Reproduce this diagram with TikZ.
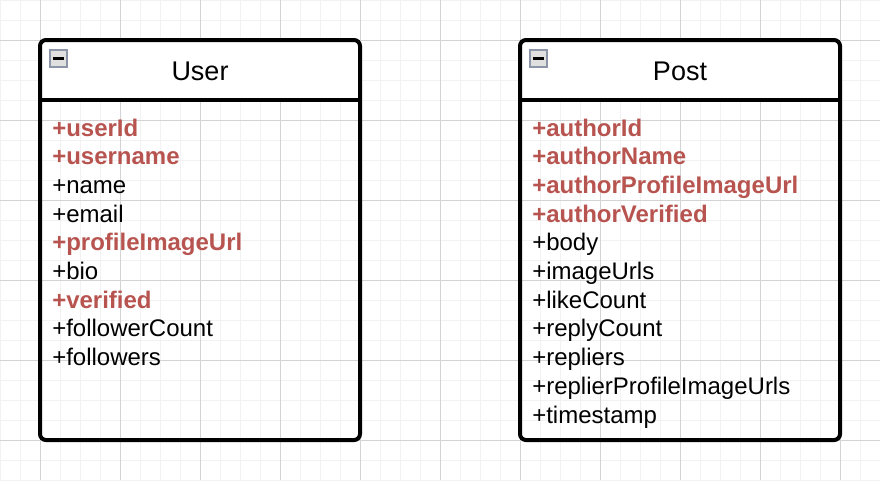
\documentclass[tikz,border=0pt]{standalone}
\usepackage{fontspec}
\setmainfont{Liberation Sans}
\definecolor{gridminor}{HTML}{F2F2F2}
\definecolor{gridmajor}{HTML}{D3D3D3}
\definecolor{keyred}{HTML}{B85450}
\definecolor{iconedge}{HTML}{8D96A8}
\def\classframe(#1){%
	\fill[white, rounded corners=4.5pt] (#1, 100) -- (#1, 40) -- ({#1+320}, 40) -- ({#1+320}, 100) [sharp corners] -- cycle;
	\draw[line width=3pt, rounded corners=4.5pt] (#1, 40) rectangle ({#1+320}, 440);
	\draw[line width=3pt] (#1, 100) -- ({#1+320}, 100);
	\draw[iconedge, line width=1.1pt, fill=black!12] ({#1+10}, 50) rectangle ({#1+27}, 67);
	\draw[line width=1.6pt] ({#1+13}, 58.5) -- ({#1+24}, 58.5);}

\begin{document}
\begin{tikzpicture}[x=0.75pt, y=-0.75pt,
		title/.style={anchor=base, inner sep=0pt, font=\fontsize{20.25}{24}\selectfont},
		field/.style={anchor=base west, inner sep=0pt, font=\fontsize{18}{21.6}\selectfont},
		keyfield/.style={field, text=keyred, font=\fontsize{18}{21.6}\selectfont\bfseries}]
		%%%%% START %%%%%
		
		\useasboundingbox (0, 0) rectangle (880, 480);
		
		\foreach \gx in {0, 20, ..., 880} \draw[gridminor, line width=0.75pt] (\gx, 0) -- (\gx, 480);
		\foreach \gy in {0, 20, ..., 480} \draw[gridminor, line width=0.75pt] (0, \gy) -- (880, \gy);
		\foreach \gx in {40, 120, ..., 840} \draw[gridmajor, line width=0.75pt] (\gx, 0) -- (\gx, 480);
		\foreach \gy in {40, 120, ..., 440} \draw[gridmajor, line width=0.75pt] (0, \gy) -- (880, \gy);
		
		\classframe(40)
		\classframe(520)
		
		\node[title] (user) at (200, 80) {User};
		\node[keyfield] (userId) at (52, 136) {+userId};
		\node[keyfield] (username) at (52, 164.7) {+username};
		\node[field] (name) at (52, 193.4) {+name};
		\node[field] (email) at (52, 222.1) {+email};
		\node[keyfield] (profileImageUrl) at (52, 250.8) {+profileImageUrl};
		\node[field] (bio) at (52, 279.5) {+bio};
		\node[keyfield] (verified) at (52, 308.2) {+verified};
		\node[field] (followerCount) at (52, 336.9) {+followerCount};
		\node[field] (followers) at (52, 365.6) {+followers};
		
		\node[title] (post) at (680, 80) {Post};
		\node[keyfield] (authorId) at (532, 136) {+authorId};
		\node[keyfield] (authorName) at (532, 164.7) {+authorName};
		\node[keyfield] (authorProfileImageUrl) at (532, 193.4) {+authorProfileImageUrl};
		\node[keyfield] (authorVerified) at (532, 222.1) {+authorVerified};
		\node[field] (body) at (532, 250.8) {+body};
		\node[field] (imageUrls) at (532, 279.5) {+imageUrls};
		\node[field] (likeCount) at (532, 308.2) {+likeCount};
		\node[field] (replyCount) at (532, 336.9) {+replyCount};
		\node[field] (repliers) at (532, 365.6) {+repliers};
		\node[field] (replierProfileImageUrls) at (532, 394.3) {+replierProfileImageUrls};
		\node[field] (timestamp) at (532, 423.0) {+timestamp};
		
		%%%%% END %%%%%
	\end{tikzpicture}
\end{document}
